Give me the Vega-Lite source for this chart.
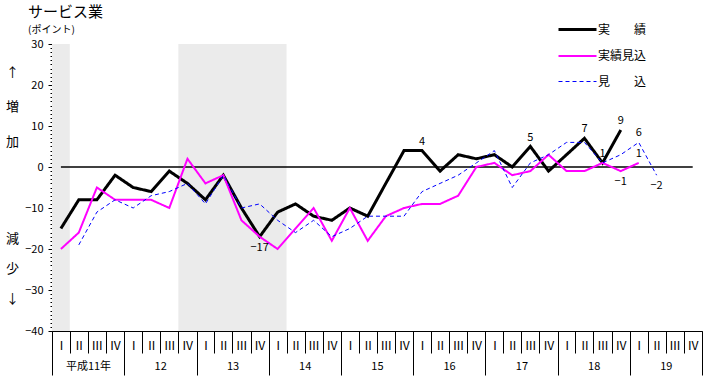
{
  "$schema": "https://vega.github.io/schema/vega-lite/v6.json",
  "width": 650,
  "height": 287,
  "autosize": {"type": "none"},
  "padding": {"left": 52, "top": 44, "right": 4, "bottom": 46},
  "background": "white",
  "config": {
    "view": {"stroke": null},
    "font": "Noto Sans CJK JP",
    "axis": {"grid": false, "labelColor": "black", "domainColor": "black", "tickColor": "black", "labelFont": "Noto Sans CJK JP"}
  },
  "title": {
    "text": "サービス業",
    "subtitle": "(ポイント)",
    "anchor": "start",
    "frame": "group",
    "dx": -24,
    "offset": -26,
    "fontSize": 15,
    "fontWeight": "normal",
    "font": "Noto Sans CJK JP",
    "color": "black",
    "subtitleFont": "Noto Sans CJK JP",
    "subtitleFontSize": 10,
    "subtitleColor": "black",
    "subtitlePadding": 5
  },
  "datasets": {
    "shade": [
      {"start": "1999-01-01", "end": "1999-04-01"},
      {"start": "2000-10-01", "end": "2002-04-01"}
    ],
    "main": [
      {"date": "1999-01-01", "series": "実　　績", "value": -15},
      {"date": "1999-04-01", "series": "実　　績", "value": -8},
      {"date": "1999-07-01", "series": "実　　績", "value": -8},
      {"date": "1999-10-01", "series": "実　　績", "value": -2},
      {"date": "2000-01-01", "series": "実　　績", "value": -5},
      {"date": "2000-04-01", "series": "実　　績", "value": -6},
      {"date": "2000-07-01", "series": "実　　績", "value": -1},
      {"date": "2000-10-01", "series": "実　　績", "value": -4},
      {"date": "2001-01-01", "series": "実　　績", "value": -8},
      {"date": "2001-04-01", "series": "実　　績", "value": -2},
      {"date": "2001-07-01", "series": "実　　績", "value": -10},
      {"date": "2001-10-01", "series": "実　　績", "value": -17},
      {"date": "2002-01-01", "series": "実　　績", "value": -11},
      {"date": "2002-04-01", "series": "実　　績", "value": -9},
      {"date": "2002-07-01", "series": "実　　績", "value": -12},
      {"date": "2002-10-01", "series": "実　　績", "value": -13},
      {"date": "2003-01-01", "series": "実　　績", "value": -10},
      {"date": "2003-04-01", "series": "実　　績", "value": -12},
      {"date": "2003-07-01", "series": "実　　績", "value": -4},
      {"date": "2003-10-01", "series": "実　　績", "value": 4},
      {"date": "2004-01-01", "series": "実　　績", "value": 4},
      {"date": "2004-04-01", "series": "実　　績", "value": -1},
      {"date": "2004-07-01", "series": "実　　績", "value": 3},
      {"date": "2004-10-01", "series": "実　　績", "value": 2},
      {"date": "2005-01-01", "series": "実　　績", "value": 3},
      {"date": "2005-04-01", "series": "実　　績", "value": 0},
      {"date": "2005-07-01", "series": "実　　績", "value": 5},
      {"date": "2005-10-01", "series": "実　　績", "value": -1},
      {"date": "2006-01-01", "series": "実　　績", "value": 3},
      {"date": "2006-04-01", "series": "実　　績", "value": 7},
      {"date": "2006-07-01", "series": "実　　績", "value": 1},
      {"date": "2006-10-01", "series": "実　　績", "value": 9},
      {"date": "1999-01-01", "series": "実績見込", "value": -20},
      {"date": "1999-04-01", "series": "実績見込", "value": -16},
      {"date": "1999-07-01", "series": "実績見込", "value": -5},
      {"date": "1999-10-01", "series": "実績見込", "value": -8},
      {"date": "2000-01-01", "series": "実績見込", "value": -8},
      {"date": "2000-04-01", "series": "実績見込", "value": -8},
      {"date": "2000-07-01", "series": "実績見込", "value": -10},
      {"date": "2000-10-01", "series": "実績見込", "value": 2},
      {"date": "2001-01-01", "series": "実績見込", "value": -4},
      {"date": "2001-04-01", "series": "実績見込", "value": -2},
      {"date": "2001-07-01", "series": "実績見込", "value": -13},
      {"date": "2001-10-01", "series": "実績見込", "value": -17},
      {"date": "2002-01-01", "series": "実績見込", "value": -20},
      {"date": "2002-04-01", "series": "実績見込", "value": -15},
      {"date": "2002-07-01", "series": "実績見込", "value": -10},
      {"date": "2002-10-01", "series": "実績見込", "value": -18},
      {"date": "2003-01-01", "series": "実績見込", "value": -10},
      {"date": "2003-04-01", "series": "実績見込", "value": -18},
      {"date": "2003-07-01", "series": "実績見込", "value": -12},
      {"date": "2003-10-01", "series": "実績見込", "value": -10},
      {"date": "2004-01-01", "series": "実績見込", "value": -9},
      {"date": "2004-04-01", "series": "実績見込", "value": -9},
      {"date": "2004-07-01", "series": "実績見込", "value": -7},
      {"date": "2004-10-01", "series": "実績見込", "value": 0},
      {"date": "2005-01-01", "series": "実績見込", "value": 1},
      {"date": "2005-04-01", "series": "実績見込", "value": -2},
      {"date": "2005-07-01", "series": "実績見込", "value": -1},
      {"date": "2005-10-01", "series": "実績見込", "value": 3},
      {"date": "2006-01-01", "series": "実績見込", "value": -1},
      {"date": "2006-04-01", "series": "実績見込", "value": -1},
      {"date": "2006-07-01", "series": "実績見込", "value": 1},
      {"date": "2006-10-01", "series": "実績見込", "value": -1},
      {"date": "2007-01-01", "series": "実績見込", "value": 1},
      {"date": "1999-04-01", "series": "見　　込", "value": -19},
      {"date": "1999-07-01", "series": "見　　込", "value": -11},
      {"date": "1999-10-01", "series": "見　　込", "value": -8},
      {"date": "2000-01-01", "series": "見　　込", "value": -10},
      {"date": "2000-04-01", "series": "見　　込", "value": -7},
      {"date": "2000-07-01", "series": "見　　込", "value": -6},
      {"date": "2000-10-01", "series": "見　　込", "value": -4},
      {"date": "2001-01-01", "series": "見　　込", "value": -9},
      {"date": "2001-04-01", "series": "見　　込", "value": -2},
      {"date": "2001-07-01", "series": "見　　込", "value": -10},
      {"date": "2001-10-01", "series": "見　　込", "value": -9},
      {"date": "2002-01-01", "series": "見　　込", "value": -13},
      {"date": "2002-04-01", "series": "見　　込", "value": -16},
      {"date": "2002-07-01", "series": "見　　込", "value": -13},
      {"date": "2002-10-01", "series": "見　　込", "value": -17},
      {"date": "2003-01-01", "series": "見　　込", "value": -15},
      {"date": "2003-04-01", "series": "見　　込", "value": -12},
      {"date": "2003-07-01", "series": "見　　込", "value": -12},
      {"date": "2003-10-01", "series": "見　　込", "value": -12},
      {"date": "2004-01-01", "series": "見　　込", "value": -6},
      {"date": "2004-04-01", "series": "見　　込", "value": -4},
      {"date": "2004-07-01", "series": "見　　込", "value": -2},
      {"date": "2004-10-01", "series": "見　　込", "value": 1},
      {"date": "2005-01-01", "series": "見　　込", "value": 4},
      {"date": "2005-04-01", "series": "見　　込", "value": -5},
      {"date": "2005-07-01", "series": "見　　込", "value": 1},
      {"date": "2005-10-01", "series": "見　　込", "value": 3},
      {"date": "2006-01-01", "series": "見　　込", "value": 6},
      {"date": "2006-04-01", "series": "見　　込", "value": 6},
      {"date": "2006-07-01", "series": "見　　込", "value": 1},
      {"date": "2006-10-01", "series": "見　　込", "value": 3},
      {"date": "2007-01-01", "series": "見　　込", "value": 6},
      {"date": "2007-04-01", "series": "見　　込", "value": -2}
    ]
  },
  "layer": [
    {
      "data": {"name": "shade"},
      "mark": {"type": "rect", "color": "#ebebeb"},
      "encoding": {
        "x": {
          "field": "start", "type": "temporal",
          "scale": {"type": "utc"},
          "axis": {
            "orient": "bottom",
            "tickCount": {"interval": "year", "step": 1},
            "tickSize": 44,
            "tickWidth": 1,
            "domain": false,
            "labelExpr": "utcyear(datum.value) >= 2008 ? '' : (utcyear(datum.value) == 1999 ? '平成11年' : '' + (utcyear(datum.value) - 1988))",
            "labelOffset": 36,
            "labelPadding": -9,
            "labelBaseline": "middle",
            "labelFontSize": 11,
            "labelFlush": false,
            "labelOverlap": false,
            "labelBound": false,
            "title": null
          }
        },
        "x2": {"field": "end"}
      }
    },
    {
      "data": {"values": [{}]},
      "mark": {"type": "rule", "color": "black", "strokeWidth": 1.3},
      "encoding": {
        "x": {"datum": {"year": 1999, "month": 2, "date": 15, "utc": true}, "type": "temporal", "scale": {"type": "utc"}, "axis": null},
        "x2": {"datum": {"year": 2007, "month": 11, "date": 15, "utc": true}},
        "y": {
          "datum": 0, "type": "quantitative",
          "axis": {
            "orient": "left",
            "values": [-39,-38,-37,-36,-35,-34,-33,-32,-31,-29,-28,-27,-26,-25,-24,-23,-22,-21,-19,-18,-17,-16,-15,-14,-13,-12,-11,-9,-8,-7,-6,-5,-4,-3,-2,-1,1,2,3,4,5,6,7,8,9,11,12,13,14,15,16,17,18,19,21,22,23,24,25,26,27,28,29],
            "tickSize": 2,
            "labels": false,
            "domain": false,
            "title": ["減", "少", "↓"],
            "titleAngle": 0,
            "titleX": -40,
            "titleY": 194,
            "titleAlign": "center",
            "titleBaseline": "middle",
            "titleFontSize": 13,
            "titleFontWeight": "normal",
            "titleLineHeight": 30,
            "titleColor": "black"
          }
        }
      }
    },
    {
      "data": {"name": "main"},
      "mark": {"type": "line"},
      "encoding": {
        "x": {
          "field": "date", "type": "temporal", "timeUnit": "utcyearquarter", "bandPosition": 0.5,
          "scale": {"type": "utc", "nice": false, "domain": [{"year": 1999, "month": 1, "date": 1, "utc": true}, {"year": 2008, "month": 1, "date": 1, "utc": true}]},
          "axis": {
            "orient": "bottom",
            "tickCount": {"interval": "month", "step": 3},
            "tickSize": 22,
            "tickWidth": 1,
            "domain": true,
            "domainWidth": 1,
            "labelExpr": "utcyear(datum.value) >= 2008 ? '' : ['Ⅰ','Ⅱ','Ⅲ','Ⅳ'][floor(utcmonth(datum.value) / 3)]",
            "labelOffset": 9,
            "labelPadding": -8,
            "labelBaseline": "middle",
            "labelFontSize": 12,
            "labelFlush": false,
            "labelOverlap": false,
            "labelBound": false,
            "title": null
          }
        },
        "y": {
          "field": "value", "type": "quantitative",
          "scale": {"domain": [-40, 30], "nice": false, "zero": false},
          "axis": {
            "orient": "left",
            "values": [-40, -30, -20, -10, 0, 10, 20, 30],
            "tickSize": 4,
            "labelPadding": 5,
            "labelFontSize": 11,
            "labelOverlap": false,
            "labelFlush": false,
            "domainWidth": 1,
            "title": ["↑", "増", "加"],
            "titleAngle": 0,
            "titleX": -40,
            "titleY": 28,
            "titleAlign": "center",
            "titleBaseline": "middle",
            "titleFontSize": 13,
            "titleFontWeight": "normal",
            "titleLineHeight": 34.5,
            "titleColor": "black"
          }
        },
        "stroke": {
          "field": "series", "type": "nominal",
          "scale": {"domain": ["実　　績", "実績見込", "見　　込"], "range": ["#000000", "#ff00ff", "#0000ff"]},
          "legend": {
            "orient": "none", "legendX": 505, "legendY": -35, "title": null,
            "symbolType": "stroke", "symbolSize": 1444,
            "labelFontSize": 12, "labelFont": "Noto Sans CJK JP", "labelColor": "black",
            "rowPadding": -6, "labelOffset": 0
          }
        },
        "strokeWidth": {
          "field": "series", "type": "nominal",
          "scale": {"domain": ["実　　績", "実績見込", "見　　込"], "range": [3, 1, 1.2]}
        },
        "strokeDash": {
          "field": "series", "type": "nominal",
          "scale": {"domain": ["実　　績", "実績見込", "見　　込"], "range": [[1, 0], [1, 0], [4, 3]]}
        }
      }
    },
    {
      "data": {"name": "main"},
      "transform": [
        {"filter": "(datum.series === '実　　績' && indexof([20041, 20053, 20062, 20063, 20064], utcyear(datum.date) * 10 + utcquarter(datum.date)) >= 0) || (datum.series !== '実　　績' && utcyear(datum.date) * 10 + utcquarter(datum.date) === 20071)"}
      ],
      "mark": {"type": "text", "dy": -9, "fontSize": 11, "font": "Noto Sans CJK JP", "color": "black"},
      "encoding": {
        "x": {"field": "date", "type": "temporal", "timeUnit": "utcyearquarter", "bandPosition": 0.5, "scale": {"type": "utc"}, "axis": null},
        "y": {"field": "value", "type": "quantitative", "axis": null},
        "text": {"field": "value", "type": "quantitative", "format": "d"}
      }
    },
    {
      "data": {"name": "main"},
      "transform": [
        {"filter": "(datum.series === '実　　績' && utcyear(datum.date) * 10 + utcquarter(datum.date) === 20014) || (datum.series === '実績見込' && utcyear(datum.date) * 10 + utcquarter(datum.date) === 20064) || (datum.series === '見　　込' && utcyear(datum.date) * 10 + utcquarter(datum.date) === 20072)"}
      ],
      "mark": {"type": "text", "dy": 11, "fontSize": 11, "font": "Noto Sans CJK JP", "color": "black"},
      "encoding": {
        "x": {"field": "date", "type": "temporal", "timeUnit": "utcyearquarter", "bandPosition": 0.5, "scale": {"type": "utc"}, "axis": null},
        "y": {"field": "value", "type": "quantitative", "axis": null},
        "text": {"field": "value", "type": "quantitative", "format": "d"}
      }
    }
  ],
  "resolve": {"axis": {"x": "independent", "y": "independent"}}
}
